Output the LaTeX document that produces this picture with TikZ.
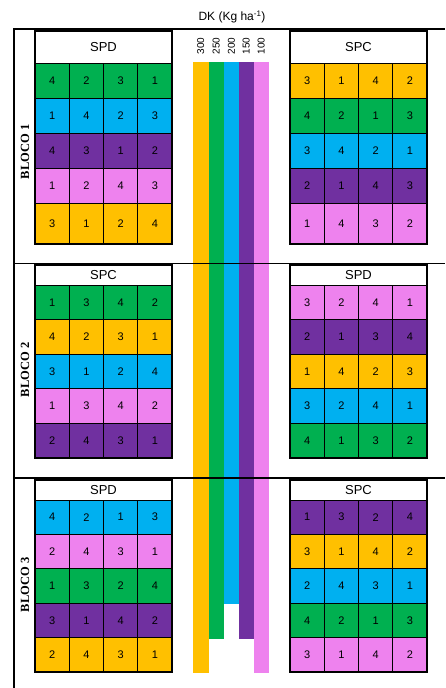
\documentclass[tikz,border=0pt]{standalone}
\usepackage{fontspec}
\setmainfont{Liberation Sans}
\newfontfamily\blocofont{Liberation Serif}
\usetikzlibrary{positioning}
\definecolor{doseyellow}{RGB}{255,192,0}
\definecolor{dosegreen}{RGB}{0,176,80}
\definecolor{doseblue}{RGB}{0,176,240}
\definecolor{dosepurple}{RGB}{112,48,160}
\definecolor{dosepink}{RGB}{238,130,238}
% one row of four plots: name, x, y, height, colour, four values
\newcommand{\plotrow}[9]{%
  \node[cell, fill=#5, minimum height=#4pt] (#1-1) at (#2,#3) {#6};
  \node[cell, fill=#5, minimum height=#4pt, right=0pt of #1-1] (#1-2) {#7};
  \node[cell, fill=#5, minimum height=#4pt, right=0pt of #1-2] (#1-3) {#8};
  \node[cell, fill=#5, minimum height=#4pt, right=0pt of #1-3] (#1-4) {#9};
}
\begin{document}
\begin{tikzpicture}[x=1pt, y=-1pt,
    cell/.style={rectangle, draw, line width=0.7pt, minimum width=34.25pt, inner sep=0pt, outer sep=0pt, anchor=north west, font=\fontsize{11}{11}\selectfont},
    head/.style={rectangle, draw, line width=1pt, fill=white, minimum width=137pt, inner sep=0pt, outer sep=0pt, anchor=north west, font=\fontsize{13}{13}\selectfont},
    gridframe/.style={line width=1.4pt},
    frame/.style={line width=1.8pt},
    bloco/.style={rotate=90, font=\blocofont\bfseries\fontsize{12.5}{12.5}\selectfont},
    dose/.style={rotate=90, inner sep=0pt, font=\fontsize{10}{10}\selectfont}
]
    \useasboundingbox (0,0) rectangle (445,688);

    \node (title) at (232,17) {\fontsize{12}{12}\selectfont DK (Kg ha\textsuperscript{-1})};

    % dose strips
    \fill[doseyellow] (193,62) rectangle (208.5,673);
    \fill[dosegreen] (208.5,62) rectangle (224,639);
    \fill[doseblue] (224,62) rectangle (239,604);
    \fill[dosepurple] (239,62) rectangle (253.5,639);
    \fill[dosepink] (253.5,62) rectangle (269,673);
    \node[dose] (d300) at (200.75,46) {300};
    \node[dose] (d250) at (216.25,46) {250};
    \node[dose] (d200) at (231.5,46) {200};
    \node[dose] (d150) at (246.25,46) {150};
    \node[dose] (d100) at (261.25,46) {100};

    % frame
    \draw[frame] (13,29) -- (445,29);
    \draw[frame] (14,29) -- (14,688);
    \draw[frame] (14,263.5) -- (445,263.5);
    \draw[frame] (14,478) -- (445,478);

    \node[bloco] (bloco1) at (25,152) {BLOCO 1};
    \node[bloco] (bloco2) at (25,370) {BLOCO 2};
    \node[bloco] (bloco3) at (25,585) {BLOCO 3};

    % bloco 1
    \node[head, minimum height=32pt] (b1spd) at (35,31) {SPD};
    \plotrow{b1spd-r1}{35}{63}{35}{dosegreen}{4}{2}{3}{1}
    \plotrow{b1spd-r2}{35}{98}{35}{doseblue}{1}{4}{2}{3}
    \plotrow{b1spd-r3}{35}{133}{35}{dosepurple}{4}{3}{1}{2}
    \plotrow{b1spd-r4}{35}{168}{35}{dosepink}{1}{2}{4}{3}
    \plotrow{b1spd-r5}{35}{203}{41}{doseyellow}{3}{1}{2}{4}
    \draw[gridframe] (b1spd.north west) rectangle (b1spd-r5-4.south east);

    \node[head, minimum height=32pt] (b1spc) at (290,31) {SPC};
    \plotrow{b1spc-r1}{290}{63}{35}{doseyellow}{3}{1}{4}{2}
    \plotrow{b1spc-r2}{290}{98}{35}{dosegreen}{4}{2}{1}{3}
    \plotrow{b1spc-r3}{290}{133}{35}{doseblue}{3}{4}{2}{1}
    \plotrow{b1spc-r4}{290}{168}{35}{dosepurple}{2}{1}{4}{3}
    \plotrow{b1spc-r5}{290}{203}{41}{dosepink}{1}{4}{3}{2}
    \draw[gridframe] (b1spc.north west) rectangle (b1spc-r5-4.south east);

    % bloco 2
    \node[head, minimum height=20pt] (b2spc) at (35,265) {SPC};
    \plotrow{b2spc-r1}{35}{285}{34.6}{dosegreen}{1}{3}{4}{2}
    \plotrow{b2spc-r2}{35}{319.6}{34.6}{doseyellow}{4}{2}{3}{1}
    \plotrow{b2spc-r3}{35}{354.2}{34.6}{doseblue}{3}{1}{2}{4}
    \plotrow{b2spc-r4}{35}{388.8}{34.6}{dosepink}{1}{3}{4}{2}
    \plotrow{b2spc-r5}{35}{423.4}{34.6}{dosepurple}{2}{4}{3}{1}
    \draw[gridframe] (b2spc.north west) rectangle (b2spc-r5-4.south east);

    \node[head, minimum height=20pt] (b2spd) at (290,265) {SPD};
    \plotrow{b2spd-r1}{290}{285}{34.6}{dosepink}{3}{2}{4}{1}
    \plotrow{b2spd-r2}{290}{319.6}{34.6}{dosepurple}{2}{1}{3}{4}
    \plotrow{b2spd-r3}{290}{354.2}{34.6}{doseyellow}{1}{4}{2}{3}
    \plotrow{b2spd-r4}{290}{388.8}{34.6}{doseblue}{3}{2}{4}{1}
    \plotrow{b2spd-r5}{290}{423.4}{34.6}{dosegreen}{4}{1}{3}{2}
    \draw[gridframe] (b2spd.north west) rectangle (b2spd-r5-4.south east);

    % bloco 3
    \node[head, minimum height=20pt] (b3spd) at (35,480) {SPD};
    \plotrow{b3spd-r1}{35}{500}{34.4}{doseblue}{4}{2}{1}{3}
    \plotrow{b3spd-r2}{35}{534.4}{34.4}{dosepink}{2}{4}{3}{1}
    \plotrow{b3spd-r3}{35}{568.8}{34.4}{dosegreen}{1}{3}{2}{4}
    \plotrow{b3spd-r4}{35}{603.2}{34.4}{dosepurple}{3}{1}{4}{2}
    \plotrow{b3spd-r5}{35}{637.6}{34.4}{doseyellow}{2}{4}{3}{1}
    \draw[gridframe] (b3spd.north west) rectangle (b3spd-r5-4.south east);

    \node[head, minimum height=20pt] (b3spc) at (290,480) {SPC};
    \plotrow{b3spc-r1}{290}{500}{34.4}{dosepurple}{1}{3}{2}{4}
    \plotrow{b3spc-r2}{290}{534.4}{34.4}{doseyellow}{3}{1}{4}{2}
    \plotrow{b3spc-r3}{290}{568.8}{34.4}{doseblue}{2}{4}{3}{1}
    \plotrow{b3spc-r4}{290}{603.2}{34.4}{dosegreen}{4}{2}{1}{3}
    \plotrow{b3spc-r5}{290}{637.6}{34.4}{dosepink}{3}{1}{4}{2}
    \draw[gridframe] (b3spc.north west) rectangle (b3spc-r5-4.south east);
\end{tikzpicture}
\end{document}
